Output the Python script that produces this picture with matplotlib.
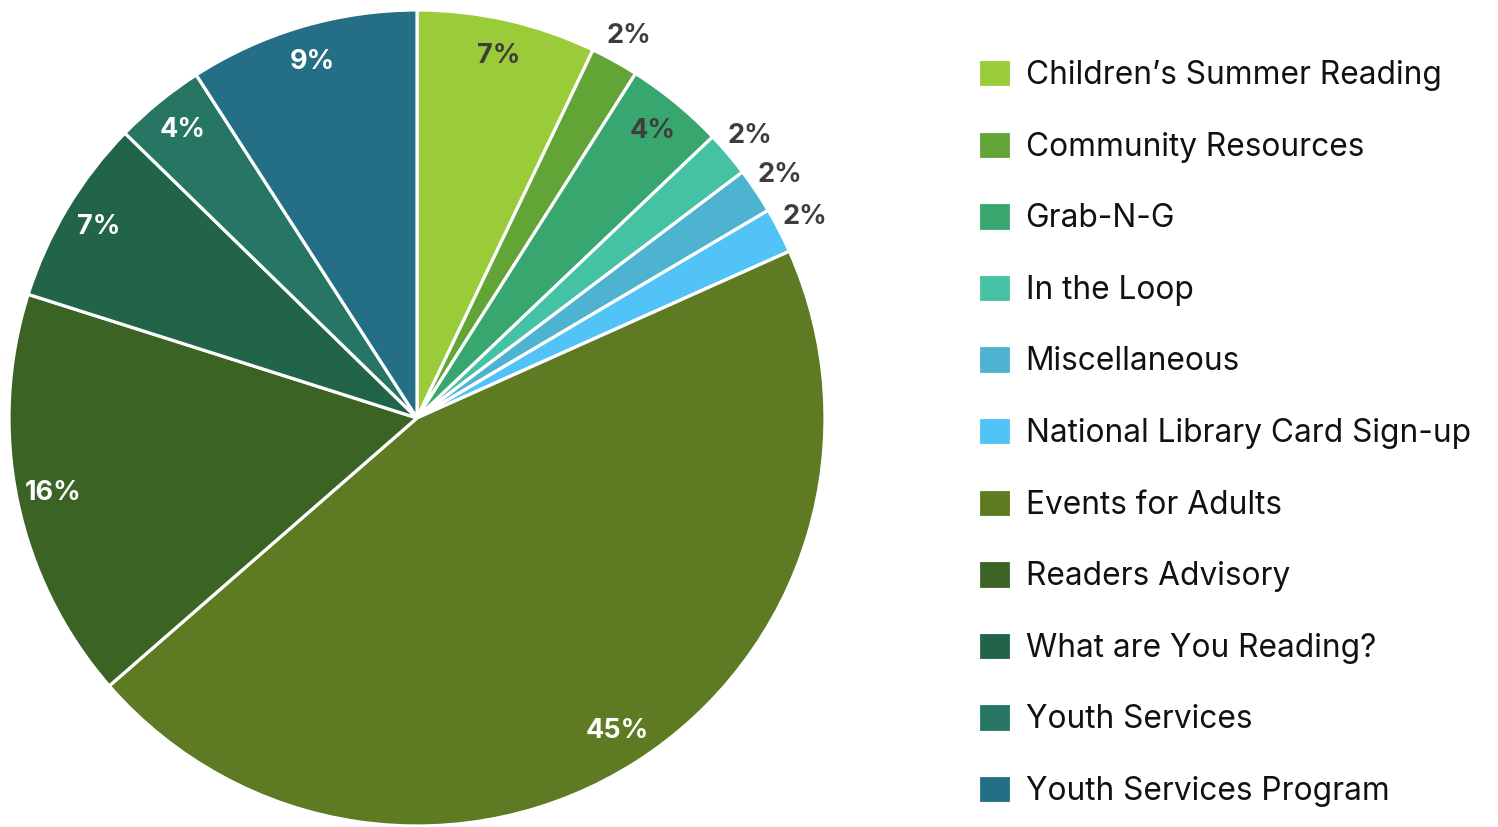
import matplotlib.pyplot as plt
import numpy as np

# Veriler (yuzde olarak)
labels = ["Children\u2019s Summer Reading", "Community Resources", "Grab-N-G",
          "In the Loop", "Miscellaneous", "National Library Card Sign-up",
          "Events for Adults", "Readers Advisory", "What are You Reading?",
          "Youth Services", "Youth Services Program"]
values = [7.1, 1.9, 3.9, 1.8, 1.8, 1.8, 45.3, 16.3, 7.4, 3.6, 9.1]
colors = ["#9ACB38", "#62A536", "#37A76F", "#45C1A3", "#4EB3D1", "#52C3F7",
          "#5E7A22", "#3B6424", "#226447", "#277563", "#246F86"]
# etiket: disarida mi, rengi
outside = [False, True, False, True, True, True, False, False, False, False, False]
text_colors = ["#3d3d3d", "#3d3d3d", "#3d3d3d", "#3d3d3d", "#3d3d3d", "#3d3d3d",
               "white", "white", "white", "white", "white"]

fig = plt.figure(figsize=(14.98, 8.27), dpi=100)
ax = fig.add_axes([9 / 1498, 1 / 827, 816 / 1498, 816 / 827])

wedges, _ = ax.pie(values, colors=colors, startangle=90, counterclock=False,
                   radius=1.0, wedgeprops=dict(edgecolor="white", linewidth=2.3))
ax.set_xlim(-1, 1)
ax.set_ylim(-1, 1)
ax.set_aspect("equal")
ax.axis("off")

total = sum(values)
for w, v, out, tc in zip(wedges, values, outside, text_colors):
    ang = np.deg2rad((w.theta1 + w.theta2) / 2)
    r = 1.07 if out else 0.91
    ax.text(r * np.cos(ang), r * np.sin(ang), "%.0f%%" % (100 * v / total),
            ha="center", va="center", fontsize=19.5, fontweight="bold",
            color=tc, family="Inter")

leg = fig.legend(wedges, labels, loc="upper left", bbox_to_anchor=(978 / 1498, 1 - 59 / 827),
                 frameon=False, prop={"family": "Inter", "size": 22.8},
                 handlelength=1.05, handleheight=1.0, handletextpad=0.45,
                 labelspacing=1.25, borderaxespad=0, borderpad=0)
for t in leg.get_texts():
    t.set_color("#111111")

plt.savefig("out.png", dpi=100)
